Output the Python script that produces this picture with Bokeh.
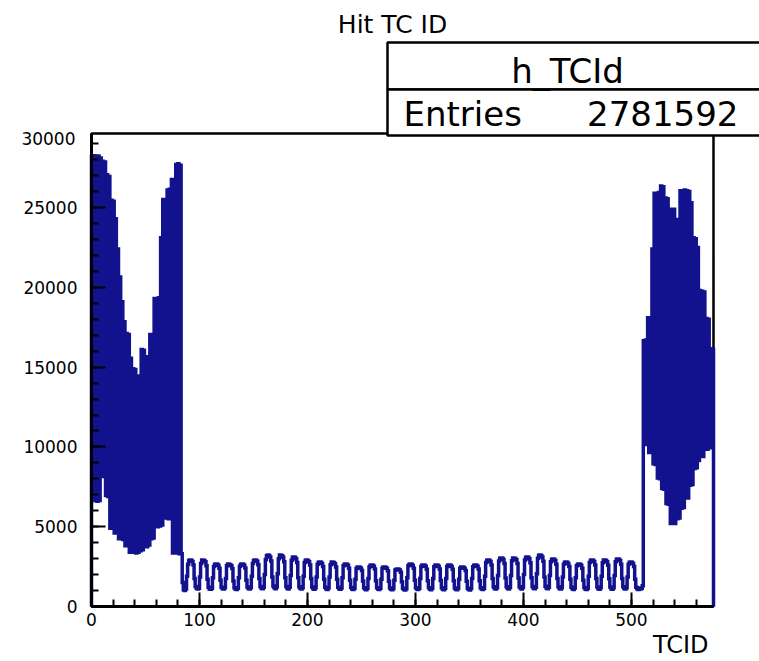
import numpy as np
from bokeh.plotting import figure
from bokeh.models import Label, BoxAnnotation, SingleIntervalTicker, Range1d
from bokeh.embed import file_html
from bokeh.resources import INLINE

# ---------------- data ----------------
x_min, x_max = 0, 576
y_max = 29640
x_tick_interval = 100
y_tick_interval = 5000
hist_name = "h_TCId"
hist_title = "Hit TC ID"
x_title = "TCID"
entries = "2781592"

# forward endcap bins 0..83
forward_counts = [
    28200, 6650, 28250, 6700, 28150, 6600, 28230, 6650, 28100, 8200,
    27900, 8150, 27850, 6950, 27050, 6900, 26950, 4900, 25450, 4950,
    25400, 4600, 24300, 4650, 22400, 4250, 20650, 4300, 19100, 4200,
    17850, 3800, 17100, 3850, 17050, 3400, 15550, 3450, 14900, 3400,
    14850, 3350, 14400, 3400, 14450, 3500, 16100, 3550, 16050, 3800,
    15650, 3750, 15600, 3850, 17050, 4250, 17000, 4300, 19300, 5050,
    19250, 5000, 19350, 5050, 23100, 5100, 25500, 6650, 25450, 5550,
    26100, 5500, 26150, 5600, 26750, 3350, 26700, 3400, 27700, 3350,
    27750, 3300, 27650, 3300,
]
# bins 84..87
transition_counts = [1500, 1050, 1000, 1100]
# barrel bins 88..507 (35 rings of 12)
barrel_counts = [
    1900, 2650, 2880, 2920, 2900, 2820, 2600, 1750, 1250, 1150, 1100, 1150,
    1850, 2700, 2920, 2900, 2880, 2800, 2550, 1700, 1200, 1100, 1080, 1150,
    1800, 2500, 2650, 2665, 2640, 2580, 2400, 1650, 1200, 1120, 1100, 1180,
    1750, 2550, 2665, 2650, 2620, 2560, 2380, 1600, 1180, 1090, 1060, 1150,
    1800, 2520, 2640, 2665, 2650, 2590, 2420, 1650, 1220, 1130, 1100, 1170,
    1900, 2700, 2880, 2920, 2900, 2840, 2620, 1750, 1250, 1150, 1110, 1200,
    2000, 2950, 3180, 3230, 3200, 3100, 2850, 1850, 1280, 1170, 1120, 1220,
    2050, 3000, 3230, 3210, 3180, 3080, 2800, 1800, 1260, 1150, 1100, 1200,
    1950, 2900, 3080, 3105, 3090, 3000, 2750, 1800, 1240, 1140, 1090, 1180,
    1900, 2750, 2900, 2920, 2890, 2800, 2600, 1750, 1220, 1120, 1080, 1170,
    1850, 2650, 2770, 2790, 2770, 2700, 2500, 1700, 1200, 1110, 1070, 1160,
    1850, 2620, 2790, 2780, 2760, 2680, 2480, 1700, 1210, 1120, 1080, 1160,
    1800, 2550, 2650, 2665, 2650, 2580, 2400, 1650, 1190, 1100, 1060, 1150,
    1700, 2380, 2470, 2480, 2460, 2400, 2250, 1600, 1170, 1090, 1050, 1140,
    1750, 2480, 2590, 2605, 2590, 2530, 2350, 1620, 1180, 1100, 1060, 1150,
    1700, 2400, 2480, 2470, 2450, 2390, 2240, 1580, 1160, 1080, 1050, 1130,
    1650, 2280, 2340, 2355, 2340, 2290, 2150, 1550, 1150, 1070, 1040, 1120,
    1800, 2560, 2650, 2665, 2640, 2570, 2390, 1640, 1180, 1090, 1060, 1150,
    1750, 2500, 2600, 2605, 2580, 2520, 2340, 1620, 1170, 1090, 1050, 1140,
    1760, 2490, 2590, 2605, 2590, 2520, 2350, 1630, 1170, 1080, 1050, 1140,
    1750, 2500, 2605, 2600, 2580, 2510, 2340, 1620, 1160, 1080, 1050, 1130,
    1700, 2400, 2470, 2480, 2460, 2400, 2250, 1590, 1150, 1070, 1040, 1130,
    1750, 2490, 2590, 2605, 2590, 2530, 2350, 1620, 1170, 1090, 1060, 1150,
    1900, 2750, 2900, 2920, 2900, 2820, 2600, 1750, 1230, 1130, 1090, 1180,
    1950, 2850, 3020, 3040, 3020, 2940, 2700, 1780, 1240, 1140, 1100, 1190,
    1950, 2870, 3040, 3030, 3010, 2930, 2690, 1780, 1240, 1140, 1100, 1190,
    2000, 2920, 3090, 3105, 3080, 2990, 2740, 1800, 1250, 1150, 1110, 1200,
    2050, 3020, 3210, 3230, 3200, 3100, 2830, 1850, 1270, 1160, 1120, 1210,
    1950, 2800, 2960, 2980, 2960, 2880, 2650, 1760, 1230, 1130, 1090, 1180,
    1850, 2650, 2780, 2790, 2770, 2700, 2500, 1700, 1200, 1110, 1070, 1160,
    1800, 2550, 2650, 2665, 2650, 2580, 2400, 1650, 1190, 1100, 1060, 1150,
    1900, 2750, 2900, 2920, 2900, 2820, 2600, 1750, 1220, 1120, 1080, 1170,
    1900, 2740, 2920, 2910, 2890, 2810, 2590, 1740, 1220, 1120, 1080, 1170,
    1950, 2800, 2960, 2980, 2960, 2880, 2650, 1760, 1230, 1130, 1090, 1180,
    1850, 2650, 2780, 2790, 2770, 2700, 2500, 1700, 1200, 1110, 1070, 1160,
]
# bins 508..510
tail_counts = [1100, 1150, 1300]
# backward endcap bins 511..575
backward_counts = [
    16650, 10200, 16700, 10150, 18100, 9650, 18050, 9700, 22400, 8950,
    25900, 8900, 25850, 8050, 25950, 8000, 26350, 7400, 26300, 7350,
    25600, 6450, 25550, 6400, 24900, 5200, 24850, 5250, 24900, 5200,
    24200, 5500, 24250, 5550, 26050, 6150, 26000, 6200, 26100, 6850,
    26050, 6800, 26000, 7600, 25300, 7650, 23100, 8650, 23050, 8700,
    22500, 9150, 19800, 9450, 19750, 9400, 19700, 9900, 18050, 9850,
    18000, 9950, 16150, 10000, 16100,
]

counts = np.array(forward_counts + transition_counts + barrel_counts
                  + tail_counts + backward_counts, dtype=float)
edges = np.linspace(x_min, x_max, len(counts) + 1)

# ROOT-style histogram outline
xs = np.concatenate([[edges[0]], np.repeat(edges, 2)[1:-1], [edges[-1]]])
ys = np.concatenate([[0.0], np.repeat(counts, 2), [0.0]])

# ---------------- layout ----------------
W, H = 759, 661
# pixel position of the histogram frame
FL, FR, FT, FB = 91, 713, 133, 606


def fx(px):
    return x_min + (px - FL) / (FR - FL) * (x_max - x_min)


def fy(py):
    return (FB - py) / (FB - FT) * y_max


p = figure(width=W, height=H,
           x_range=Range1d(fx(0), fx(W)), y_range=Range1d(fy(H), fy(0)),
           output_backend="svg", toolbar_location=None,
           min_border_left=0, min_border_right=0,
           min_border_top=0, min_border_bottom=0)
p.title.visible = False
p.grid.visible = False
p.background_fill_color = "white"
p.border_fill_color = "white"
p.outline_line_color = None

line_col = "#12128f"
p.line(xs, ys, line_color=line_col, line_width=3.5, line_join="miter")

# axes placed at the frame edges of the histogram
p.xaxis.fixed_location = 0
p.xaxis.bounds = (x_min, x_max)
p.yaxis.fixed_location = x_min
p.yaxis.bounds = (0, y_max)
p.xaxis.ticker = SingleIntervalTicker(interval=x_tick_interval, num_minor_ticks=5)
p.yaxis.ticker = SingleIntervalTicker(interval=y_tick_interval, num_minor_ticks=5)
for ax in (p.xaxis[0], p.yaxis[0]):
    ax.axis_line_width = 3
    ax.axis_line_color = "black"
    ax.major_tick_in = 14
    ax.major_tick_out = 0
    ax.minor_tick_in = 7
    ax.minor_tick_out = 0
    ax.major_tick_line_width = 2
    ax.minor_tick_line_width = 2
    ax.major_tick_line_color = "black"
    ax.minor_tick_line_color = "black"
    ax.major_label_text_font = "DejaVu Sans"
    ax.major_label_text_font_size = "17px"
    ax.major_label_text_color = "black"
p.xaxis.major_label_standoff = 6
p.yaxis.major_label_standoff = 14

# top / right sides of the histogram frame
frame_box = BoxAnnotation(left=x_min, right=x_max, bottom=0, top=y_max,
                          fill_alpha=0, line_color="black", line_alpha=1.0,
                          line_width=2.5, level="underlay")
p.add_layout(frame_box)

# stats box
box_top = BoxAnnotation(left=fx(387), right=fx(775), top=fy(42), bottom=fy(89),
                        fill_color="white", fill_alpha=1.0,
                        line_color="black", line_alpha=1.0, line_width=2.5)
box_bot = BoxAnnotation(left=fx(387), right=fx(775), top=fy(89), bottom=fy(135),
                        fill_color="white", fill_alpha=1.0,
                        line_color="black", line_alpha=1.0, line_width=2.5)
p.add_layout(box_top)
p.add_layout(box_bot)

FONT = "DejaVu Sans"


def add_label(text, px, py, size, align="left"):
    p.add_layout(Label(x=fx(px), y=fy(py), text=text, text_font=FONT,
                       text_font_size=size, text_align=align,
                       text_baseline="middle", text_color="black"))


add_label(hist_title, 392, 24, "25px", align="center")
add_label(hist_name, 567, 70, "34px", align="center")
add_label("Entries", 403, 113, "34px", align="left")
add_label(entries, 738, 113, "34px", align="right")
add_label(x_title, 708, 644, "24px", align="right")
add_label("30000", 75, 138, "17px", align="right")

open("out.html", "w").write(file_html(p, INLINE))
